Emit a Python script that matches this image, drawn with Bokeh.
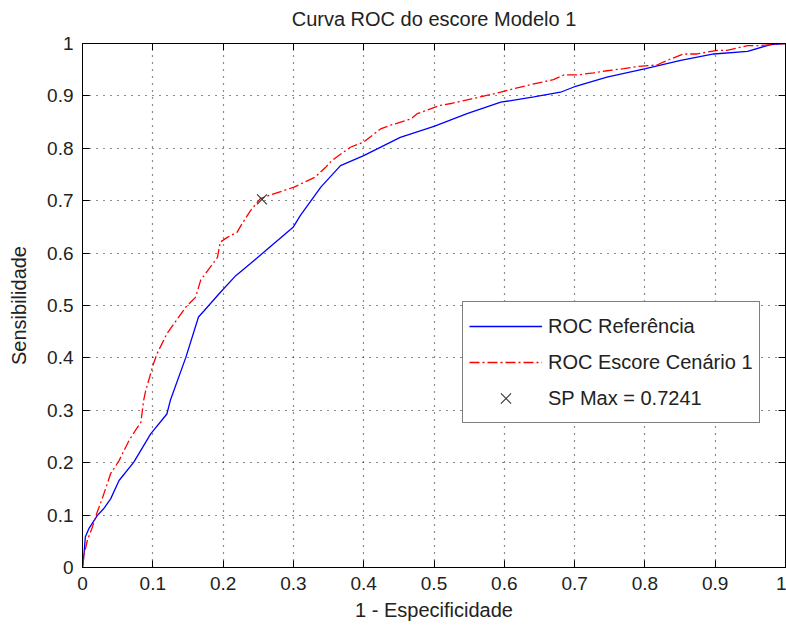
from bokeh.plotting import figure
from bokeh.models import Range1d, LinearAxis, FixedTicker, Legend, LegendItem
from bokeh.embed import file_html
from bokeh.resources import INLINE

# ---- data ----
ref_fpr = [0.0, 0.002, 0.004, 0.009, 0.021, 0.030, 0.040, 0.052, 0.073, 0.097, 0.120,
           0.125, 0.147, 0.165, 0.173, 0.194, 0.218, 0.239, 0.272, 0.300, 0.310, 0.339,
           0.367, 0.400, 0.452, 0.500, 0.547, 0.595, 0.642, 0.680, 0.699, 0.746, 0.801,
           0.851, 0.898, 0.946, 0.979, 1.0]
ref_tpr = [0.0, 0.023, 0.058, 0.074, 0.099, 0.112, 0.131, 0.166, 0.201, 0.255, 0.293,
           0.319, 0.401, 0.478, 0.490, 0.522, 0.557, 0.580, 0.618, 0.650, 0.672, 0.726,
           0.767, 0.786, 0.821, 0.842, 0.866, 0.888, 0.898, 0.907, 0.917, 0.936, 0.952,
           0.968, 0.980, 0.985, 0.998, 1.0]

esc_fpr = [0.0, 0.002, 0.007, 0.014, 0.021, 0.028, 0.040, 0.052, 0.066, 0.075, 0.083,
           0.087, 0.090, 0.101, 0.106, 0.120, 0.130, 0.147, 0.161, 0.168, 0.192, 0.196,
           0.206, 0.220, 0.227, 0.239, 0.253, 0.272, 0.301, 0.331, 0.346, 0.355, 0.381,
           0.400, 0.424, 0.438, 0.467, 0.476, 0.509, 0.526, 0.552, 0.569, 0.595, 0.614,
           0.642, 0.670, 0.685, 0.704, 0.727, 0.746, 0.770, 0.789, 0.817, 0.834, 0.855,
           0.874, 0.903, 0.917, 0.946, 0.964, 0.979, 1.0]
esc_tpr = [0.0, 0.023, 0.052, 0.077, 0.106, 0.131, 0.179, 0.204, 0.242, 0.261, 0.277,
           0.319, 0.338, 0.389, 0.408, 0.446, 0.465, 0.497, 0.516, 0.548, 0.592, 0.621,
           0.630, 0.640, 0.656, 0.681, 0.704, 0.713, 0.726, 0.745, 0.764, 0.777, 0.802,
           0.812, 0.837, 0.844, 0.856, 0.866, 0.882, 0.886, 0.894, 0.899, 0.907, 0.914,
           0.923, 0.931, 0.940, 0.940, 0.944, 0.948, 0.952, 0.956, 0.959, 0.969, 0.980,
           0.980, 0.987, 0.987, 0.996, 0.996, 0.998, 1.0]

sp_max_x = [0.2553]
sp_max_y = [0.7025]

tick_values = [0.0, 0.1, 0.2, 0.3, 0.4, 0.5, 0.6, 0.7, 0.8, 0.9, 1.0]
tick_labels = ["0", "0.1", "0.2", "0.3", "0.4", "0.5", "0.6", "0.7", "0.8", "0.9", "1"]

title_text = "Curva ROC do escore Modelo 1"
x_label = "1 - Especificidade"
y_label = "Sensibilidade"
legend_labels = ["ROC Referência", "ROC Escore Cenário 1", "SP Max = 0.7241"]

FONT = "Liberation Sans"

p = figure(width=786, height=626, output_backend="svg", toolbar_location=None,
           x_range=Range1d(0, 1), y_range=Range1d(0, 1),
           min_border_left=82, min_border_right=1, min_border_top=43, min_border_bottom=59,
           background_fill_color="white", border_fill_color="white")

p.title.text = title_text
p.title.align = "center"
p.title.text_font = FONT
p.title.text_font_size = "20px"
p.title.text_font_style = "normal"
p.title.text_color = "#222222"
p.title.padding = dict(left=0, right=0, top=0, bottom=9)

overrides = {v: l for v, l in zip(tick_values, tick_labels)}

def style_axis(ax, show_labels):
    ax.ticker = FixedTicker(ticks=tick_values)
    ax.major_tick_in = 7
    ax.major_tick_out = 0
    ax.minor_tick_line_color = None
    ax.axis_line_color = "black"
    ax.axis_line_width = 1
    ax.major_tick_line_color = "black"
    if show_labels:
        ax.major_label_overrides = overrides
        ax.major_label_text_font = FONT
        ax.major_label_text_color = "#222222"
        ax.major_label_text_font_size = "19px"
        ax.major_label_standoff = 9
    else:
        ax.major_label_text_color = None
        ax.major_label_text_font_size = "1px"
        ax.major_label_standoff = 0

style_axis(p.xaxis[0], True)
style_axis(p.yaxis[0], True)
p.xaxis.axis_label = x_label
p.yaxis.axis_label = y_label
for ax in (p.xaxis[0], p.yaxis[0]):
    ax.axis_label_text_font = FONT
    ax.axis_label_text_font_size = "20px"
    ax.axis_label_text_font_style = "normal"
    ax.axis_label_text_color = "#222222"
p.xaxis[0].axis_label_standoff = 6
p.yaxis[0].axis_label_standoff = 14

top_ax = LinearAxis()
right_ax = LinearAxis()
style_axis(top_ax, False)
style_axis(right_ax, False)
p.add_layout(top_ax, "above")
p.add_layout(right_ax, "right")

p.outline_line_color = "black"
p.outline_line_width = 1

for g in (p.xgrid[0], p.ygrid[0]):
    g.ticker = FixedTicker(ticks=tick_values)
    g.grid_line_color = "black"
    g.grid_line_dash = "1 6"
    g.grid_line_width = 1.2
    g.grid_line_alpha = 0.9

r_ref = p.line(ref_fpr, ref_tpr, line_color="#0000ff", line_width=1.3)
r_esc = p.line(esc_fpr, esc_tpr, line_color="#ff0000", line_width=1.3, line_dash="10 3 2 3")
r_sp = p.scatter(sp_max_x, sp_max_y, marker="x", size=14, line_color="#333333", line_width=1.1)

legend = Legend(items=[LegendItem(label=legend_labels[0], renderers=[r_ref]),
                       LegendItem(label=legend_labels[1], renderers=[r_esc]),
                       LegendItem(label=legend_labels[2], renderers=[r_sp])],
                location=(380, 144))
legend.label_text_font = FONT
legend.label_text_font_size = "20px"
legend.label_text_color = "#222222"
legend.glyph_width = 73
legend.glyph_height = 36
legend.label_height = 20
legend.spacing = -6
legend.padding = 6
legend.margin = 0
legend.label_standoff = 6
legend.border_line_color = "black"
legend.border_line_width = 1.5
legend.background_fill_color = "white"
legend.background_fill_alpha = 1
p.add_layout(legend, "center")

open("out.html", "w").write(file_html(p, INLINE))
